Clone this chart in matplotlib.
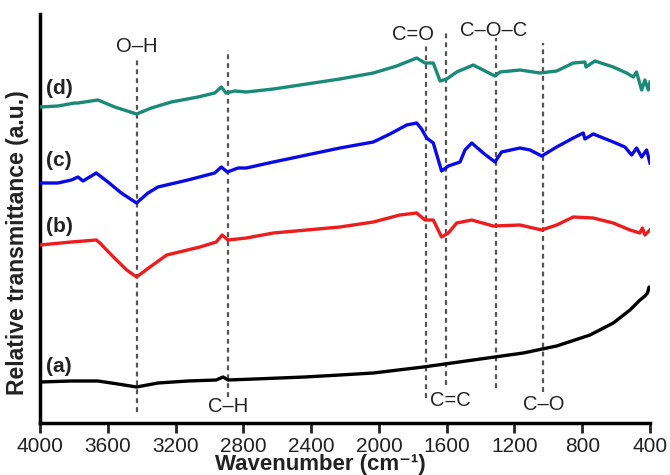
import numpy as np
import matplotlib
matplotlib.use("Agg")
import matplotlib.pyplot as plt

plt.rcParams['font.family'] = ['Liberation Sans', 'DejaVu Sans']

# spectra (wavenumber, relative transmittance in a.u.)
wn_a = [4000, 3815, 3658, 3540, 3430, 3304, 3127, 2960, 2920, 2890, 2733, 2438,
        2230, 2033, 1738, 1443, 1148, 951, 754, 617, 518, 459, 430, 415, 405, 400]
tr_a = [41, 42, 42, 39, 36, 40, 42, 43, 46, 43, 44, 46,
        48, 50, 56, 63, 70, 77, 88, 100, 113, 123, 127, 130, 136, 134]

wn_b = [4000, 3815, 3668, 3646, 3618, 3567, 3488, 3430, 3351, 3252, 3056, 2960,
        2925, 2890, 2782, 2623, 2426, 2230, 2033, 1876, 1777, 1728, 1679, 1630,
        1590, 1541, 1452, 1325, 1167, 1039, 951, 853, 735, 617, 518, 460, 445,
        430, 400]
tr_b = [178, 181, 183, 180, 175, 166, 153, 146, 156, 168, 176, 181,
        188, 183, 185, 190, 193, 196, 201, 208, 210, 203, 203, 186,
        190, 200, 203, 197, 198, 193, 198, 206, 205, 200, 193, 190, 195,
        188, 193]

wn_c = [4000, 3894, 3815, 3776, 3746, 3668, 3599, 3520, 3430, 3363, 3304, 3127,
        2969, 2930, 2895, 2831, 2782, 2623, 2426, 2230, 2033, 1935, 1836, 1777,
        1748, 1718, 1679, 1630, 1590, 1521, 1492, 1452, 1384, 1315, 1276, 1167,
        1108, 1039, 951, 853, 794, 784, 735, 617, 548, 508, 479, 449, 420, 400]
tr_c = [240, 240, 243, 246, 242, 250, 241, 230, 220, 230, 236, 243,
        250, 256, 251, 255, 255, 261, 268, 275, 281, 289, 298, 300,
        294, 285, 280, 252, 257, 261, 273, 280, 270, 261, 271, 275,
        273, 267, 276, 285, 290, 284, 289, 281, 276, 268, 275, 266, 273, 260]

wn_d = [4000, 3894, 3795, 3776, 3658, 3559, 3430, 3343, 3225, 3067, 2969, 2930,
        2902, 2851, 2782, 2623, 2426, 2230, 2033, 1895, 1777, 1728, 1679, 1639,
        1600, 1541, 1443, 1315, 1285, 1167, 1049, 951, 853, 784, 778, 725, 617,
        538, 499, 480, 449, 430, 410, 400]
tr_d = [316, 317, 320, 320, 323, 316, 309, 315, 321, 326, 330, 336,
        330, 332, 331, 334, 339, 344, 350, 357, 365, 360, 360, 342,
        344, 351, 358, 347, 351, 353, 350, 352, 360, 361, 356, 362, 356,
        350, 346, 351, 333, 343, 333, 341]

curve_names = ['(a)', '(b)', '(c)', '(d)']
curve_colors = ['black', '#ee1c1c', '#0a0ae6', '#1a8a78']

# band assignments: label, wavenumber of the dashed marker
band_labels = ['O–H', 'C–H', 'C=O', 'C=C', 'C–O–C', 'C–O']
band_wn = [3430, 2890, 1723, 1605, 1308, 1029]

fig = plt.figure(figsize=(6.7, 4.75), dpi=100)
ax = fig.add_axes([40 / 670, 52 / 475, 610 / 670, 409 / 475])

series = [(wn_a, tr_a), (wn_b, tr_b), (wn_c, tr_c), (wn_d, tr_d)]
for (wn, tr), col in zip(series, curve_colors):
    ax.plot(wn, tr, color=col, lw=2.4, solid_joinstyle='round', zorder=3)

# dashed marker lines (y extents in axis units)
line_spans = [(11, 363), (26, 373), (25, 378), (38, 390), (35, 385), (31, 380)]
for w, (y0, y1) in zip(band_wn, line_spans):
    ax.plot([w, w], [y0, y1], color='#555555', lw=1.6, ls=(0, (2.2, 1.8)), zorder=2)

label_pos = [(3430, 376), (2890, 16), (1799, 388), (1580, 23), (1321, 393), (1026, 18)]
for txt, (x, y) in zip(band_labels, label_pos):
    ax.text(x, y, txt, fontsize=14.5, ha='center', va='center', color='#222222')

name_pos = [56, 196, 263, 335]
for txt, y in zip(curve_names, name_pos):
    ax.text(3888, y, txt, fontsize=15, fontweight='bold', ha='center', va='center',
            color='#222222')

ax.set_xlim(4000, 400)
ax.set_ylim(0, 409)
ax.set_xticks([4000, 3600, 3200, 2800, 2400, 2000, 1600, 1200, 800, 400])
ax.set_yticks([])
ax.tick_params(axis='x', labelsize=15, length=7, width=2, pad=3, colors='#222222')
for s in ['top', 'right']:
    ax.spines[s].set_visible(False)
for s in ['left', 'bottom']:
    ax.spines[s].set_linewidth(2.5)
ax.set_xlabel('Wavenumber (cm⁻¹)', fontsize=16, fontweight='bold',
              color='#222222')
ax.xaxis.set_label_coords(0.46, -0.076)
ax.set_ylabel('Relative transmittance (a.u.)', fontsize=16.5, fontweight='bold',
              color='#222222')
ax.yaxis.set_label_coords(-0.018, 0.44)

fig.savefig('out.png', dpi=100)
